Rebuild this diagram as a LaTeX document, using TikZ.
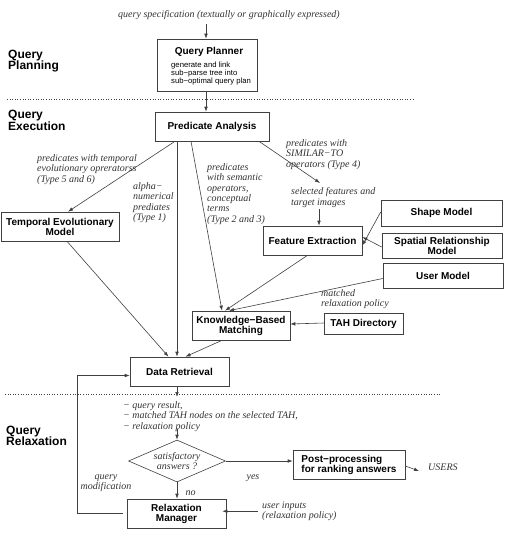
\documentclass[tikz,border=0pt]{standalone}
\usepackage{fontspec}
\setmainfont{Liberation Sans}
\newfontfamily\tms{Liberation Serif}
\usetikzlibrary{arrows.meta,shapes.geometric}
\definecolor{lc}{gray}{0.25}
\definecolor{tc}{gray}{0.2}
\tikzset{
 box/.style={draw=lc, line width=0.6pt, inner sep=0, align=center, font=\fontsize{10}{10}\selectfont\bfseries},
 it/.style={inner sep=0, align=left, font=\tms\itshape\fontsize{10}{10.3}\selectfont, text=tc},
 arr/.style={draw=lc, line width=0.6pt, -{Latex[length=5pt,width=3.6pt]}},
 ln/.style={draw=lc, line width=0.6pt},
 sec/.style={inner sep=0, align=left, anchor=north west, font=\fontsize{12}{11.6}\selectfont\bfseries},
 sep/.style={draw=lc, line width=0.6pt, dotted},
}
\begin{document}
\begin{tikzpicture}[x=1pt,y=-1pt]
\useasboundingbox (0,0) rectangle (505,535);
% section labels
\node[sec] (s1) at (8,49.5) {Query\\Planning};
\node[sec] (s2) at (8,110) {Query\\Execution};
\node[sec] (s3) at (6,425.5) {Query\\Relaxation};
\coordinate (d1a) at (7,99); \coordinate (d1b) at (414,99);
\coordinate (d2a) at (5,394); \coordinate (d2b) at (441,394);
\draw[sep] (d1a) -- (d1b);
\draw[sep] (d2a) -- (d2b);
% boxes
\node[box, minimum width=100, minimum height=52] (qp) at (207,65) {};
\node[inner sep=0, font=\fontsize{10}{10}\selectfont\bfseries] (qpt) at (209,52) {Query Planner};
\node[inner sep=0, align=left, anchor=north west, font=\fontsize{7.7}{8}\selectfont] (qps) at (171,61.5) {generate and link\\sub−parse tree into\\sub−optimal query plan};
\node[box, minimum width=114, minimum height=29] (pa) at (212,126.5) {Predicate Analysis};
\node[box, minimum width=118, minimum height=29] (tem) at (60,226.5) {Temporal Evolutionary\\Model};
\node[box, minimum width=99, minimum height=29] (fe) at (312.5,240.5) {Feature Extraction};
\node[box, minimum width=121, minimum height=26] (sh) at (441.5,213) {Shape Model};
\node[box, minimum width=120, minimum height=25] (sp) at (442,245.5) {Spatial Relationship\\Model};
\node[box, minimum width=120, minimum height=25] (um) at (443,275.5) {User Model};
\node[box, minimum width=98, minimum height=29] (kbm) at (241,325.5) {Knowledge−Based\\Matching};
\node[box, minimum width=79, minimum height=21] (tah) at (363.5,323.5) {TAH Directory};
\node[box, minimum width=99, minimum height=29] (dr) at (179.5,371.5) {Data Retrieval};
\node[draw=lc, line width=0.6pt, diamond, aspect=2.3, inner sep=0, minimum width=97, minimum height=42, align=center, font=\tms\itshape\fontsize{10}{10.3}\selectfont, text=tc] (dia) at (177,461) {satisfactory\\answers ?};
\node[box, minimum width=112, minimum height=29, align=left] (pp) at (349,464.5) {Post−processing\\for ranking answers};
\node[box, minimum width=99, minimum height=29] (rm) at (176.5,513.5) {Relaxation\\Manager};
% labels
\node[it, anchor=base] (qs) at (229,17.5) {query specification (textually or graphically expressed)};
\node[it, anchor=north west] (tl) at (37,154.5) {predicates with temporal\\evolutionary opreratorss\\(Type 5 and 6)};
\node[it, anchor=north west] (al) at (133,182.5) {alpha−\\numerical\\prediates\\(Type 1)};
\node[it, anchor=north west] (sl) at (207,163.5) {predicates\\with semantic\\operators,\\conceptual\\terms\\(Type 2 and 3)};
\node[it, anchor=north west] (siml) at (286,139.5) {predicates with\\SIMILAR−TO\\operators (Type 4)};
\node[it, anchor=north west] (sfl) at (291,187.5) {selected features and\\target images};
\node[it, anchor=north west] (mrp) at (321,289.5) {matched\\relaxation policy};
\node[it, anchor=north west] (qr) at (123,401.5) {− query result,\\− matched TAH nodes on the selected TAH,\\− relaxation policy};
\node[it, anchor=base] (yes) at (253,479.5) {yes};
\node[it, anchor=base] (no) at (190.5,495.5) {no};
\node[it, anchor=west] (users) at (428,467) {USERS};
\node[it, anchor=north, align=center] (qm) at (106,474.5) {query\\modification};
\node[it, anchor=north west] (ui) at (262,501.5) {user inputs\\(relaxation policy)};
% connectors
\draw[arr] ([xshift=-23pt,yshift=-4pt]qs.south) -- ([xshift=-1pt]qp.north);
\draw[arr] ([xshift=-1pt]qp.south) -- ([xshift=-6pt]pa.north);
\draw[arr] ([xshift=-37pt]pa.south) -- ([xshift=8pt]tem.north);
\draw[arr] ([xshift=-35pt]pa.south) -- ([xshift=-35pt]pa.south |- dr.north);
\draw[arr] ([xshift=-21pt]pa.south) -- ([xshift=-19pt]kbm.north);
\coordinate (simend) at (320,183);
\draw[arr] ([xshift=47pt]pa.south) -- (simend);
\draw[arr] ([xshift=28pt,yshift=-2pt]sfl.south west) -- ([xshift=6.5pt]fe.north);
\draw[arr] ([yshift=1pt]sh.west) -- ([yshift=-5pt]fe.east);
\draw[arr] ([yshift=-1.5pt]sp.west) -- ([yshift=3.5pt]fe.east);
\draw[arr] ([xshift=-5pt]fe.south) -- ([xshift=-16pt]kbm.north);
\draw[arr] ([yshift=-3pt]um.west) -- ([xshift=-12pt]kbm.north);
\draw[arr] ([yshift=0.5pt]tah.west) -- ([yshift=1.5pt]kbm.east);
\draw[arr] ([xshift=-19pt]kbm.south) -- ([xshift=6pt]dr.north);
\draw[arr] ([xshift=7pt]tem.south) -- ([xshift=-11pt]dr.north);
\coordinate (drout) at (177,397);
\draw[arr] (dr.south -| drout) -- (drout);
\coordinate (qrout) at (177,428.5);
\draw[arr] (qrout) -- (dia.north);
\draw[arr] (dia.east) -- (dia.east -| pp.west);
\draw[arr] ([yshift=-1.5pt]pp.east) -- ([xshift=-9pt,yshift=-4pt]users.west);
\draw[arr] (dia.south) -- (rm.north -| dia.south);
\draw[arr] ([xshift=-4pt]ui.west) -- ([xshift=-4pt]ui.west -| rm.east);
\coordinate (fb) at (77,513.5);
\draw[arr] ([xshift=-4pt]rm.west) -- (fb) |- ([yshift=-4pt]dr.west);
\end{tikzpicture}
\end{document}
